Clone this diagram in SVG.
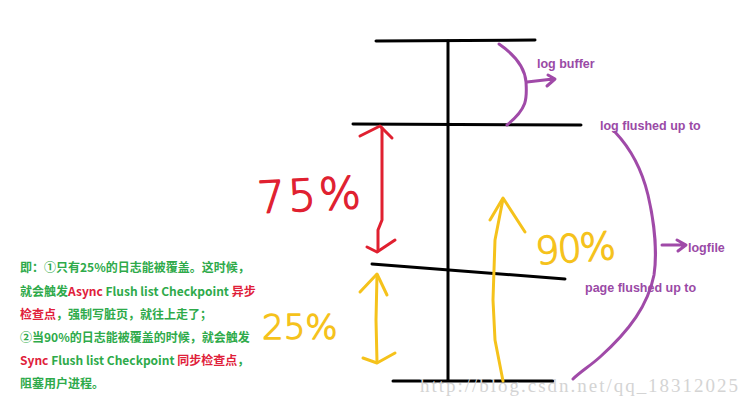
<svg xmlns="http://www.w3.org/2000/svg" width="750" height="405" viewBox="0 0 750 405">
<style>
.blk{stroke:#000;stroke-width:3;fill:none;stroke-linecap:round}
.pur{stroke:#a04aa8;stroke-width:3;fill:none;stroke-linecap:round;stroke-linejoin:round}
.red{stroke:#e02030;stroke-width:3;fill:none;stroke-linecap:round;stroke-linejoin:round}
.yel{stroke:#f5c21b;stroke-width:3;fill:none;stroke-linecap:round;stroke-linejoin:round}
.pl{font-family:"Liberation Sans","Noto Sans",sans-serif;font-weight:bold;font-size:12.5px;fill:#9a4aa6}
.note{font-family:"Noto Sans CJK SC","Liberation Sans",sans-serif;font-weight:bold;font-size:12px;fill:#2eaa4a}
.nr{fill:#e0203a}
.hand{font-family:"DejaVu Sans","Liberation Sans",sans-serif;font-weight:200;stroke-width:1.3;stroke-linejoin:round}
</style>
<rect width="750" height="405" fill="#fff"/>
<g id="scale">
<path class="blk" d="M376 41 L535 40"/>
<path class="blk" d="M448 41 L448 380"/>
<path class="blk" d="M353 124 L581 125"/>
<path class="blk" d="M372 264 L565 279"/>
<path class="blk" d="M393 381 L553 381"/>
</g>
<g id="connectors">
<path class="pur" d="M499 44 C515 55 525 68 526 82 C527 98 528 108 507 125"/>
<path class="pur" d="M527 82 L553 79 M548 75 L555 79 L547 86"/>
<path class="pur" d="M615 132 C632 150 642 170 648 195 C655 225 657 255 654 275 C648 305 630 330 600 357 C590 366 580 372 573 379"/>
<path class="pur" d="M662 245 L685 245 M677 240 L686 245 L678 251"/>
<path class="red" d="M382 128 L382 220 L378 230 L378 251"/>
<path class="red" d="M360 136 L380 126 L392 138"/>
<path class="red" d="M367 247 L377 252 L395 240"/>
<path class="yel" d="M377 275 L376 320 L377 362"/>
<path class="yel" d="M360 292 L377 274 L387 295"/>
<path class="yel" d="M363 358 L377 363 L395 353"/>
<path class="yel" d="M503 199 L495 240 L493 300 L495 340 L503 381"/>
<path class="yel" d="M490 220 L503 198 L525 232"/>
</g>
<g id="labels">
<text class="pl" x="537" y="68">log buffer</text>
<text class="pl" x="600" y="130">log flushed up to</text>
<text class="pl" x="688" y="252">logfile</text>
<text class="pl" x="585" y="292">page flushed up to</text>
</g>
<g id="handwritten">
<text class="hand" x="257" y="211" font-size="44" fill="#e02030" stroke="#e02030" letter-spacing="3" transform="rotate(-3 300 195)">75%</text>
<text class="hand" x="262" y="339" font-size="34" fill="#f5c21b" stroke="#f5c21b">25%</text>
<text class="hand" x="535" y="262" font-size="38" fill="#f5c21b" stroke="#f5c21b" letter-spacing="-2" transform="rotate(-4 570 245)">90%</text>
</g>
<g id="note">
<text class="note" x="20" y="272">即：①只有25%的日志能被覆盖。这时候，</text>
<text class="note" x="20" y="296">就会触发<tspan class="nr">Async</tspan> Flush list Checkpoint <tspan class="nr">异步</tspan></text>
<text class="note" x="20" y="319"><tspan class="nr">检查点</tspan>，强制写脏页，就往上走了；</text>
<text class="note" x="20" y="342">②当90%的日志能被覆盖的时候，就会触发</text>
<text class="note" x="20" y="365"><tspan class="nr">Sync</tspan> Flush list Checkpoint <tspan class="nr">同步检查点</tspan>，</text>
<text class="note" x="20" y="388">阻塞用户进程。</text>
</g>
<text x="420" y="392" font-family="Liberation Serif,serif" font-size="19" fill="#d4d4d4" textLength="318" lengthAdjust="spacing">http://blog.csdn.net/qq_18312025</text>
</svg>
